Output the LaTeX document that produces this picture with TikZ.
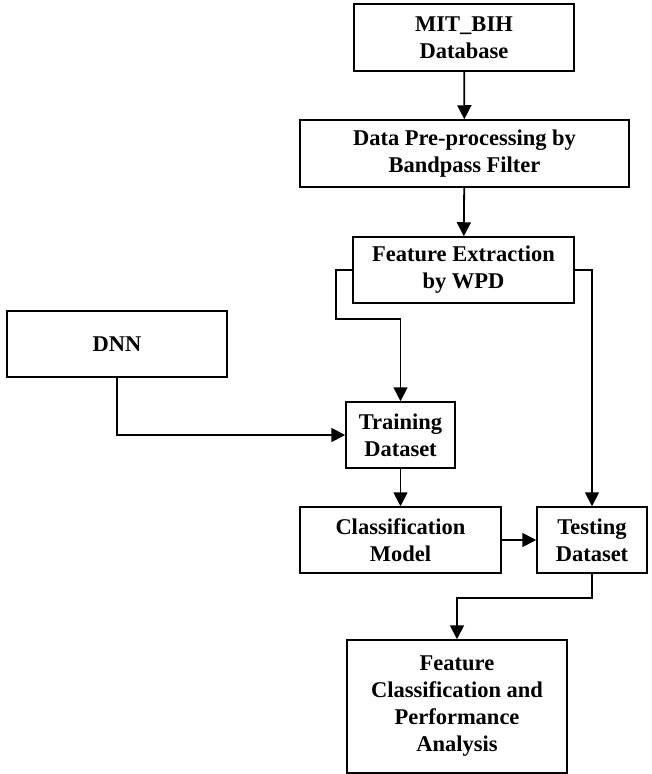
\documentclass[tikz,border=0pt]{standalone}
\usepackage{fontspec}
\setmainfont{Liberation Serif}
\usetikzlibrary{arrows.meta}
\begin{document}
\begin{tikzpicture}[x=1pt,y=-1pt,
  box/.style={draw=black, line width=1.5pt, fill=white, inner sep=0pt,
    align=center, font=\fontsize{22.5}{27}\selectfont\bfseries},
  link/.style={draw=black, line width=1.8pt,
    -{Triangle[length=14pt,width=14pt]}}]
  \useasboundingbox (0,0) rectangle (652,774);

  % process boxes
  \node[box, minimum width=220, minimum height=67] (mit)   at (464,37.5)  {MIT\_BIH\\Database};
  \node[box, minimum width=329, minimum height=67] (pre)   at (464.5,153.5) {Data Pre-processing by\\Bandpass Filter};
  \node[box, minimum width=221, minimum height=66] (fe)    at (463.5,270) {Feature Extraction\\by WPD};
  \node[box, minimum width=220, minimum height=66] (dnn)   at (117,344)   {DNN};
  \node[box, minimum width=109, minimum height=66] (train) at (400.5,435) {Training\\Dataset};
  \node[box, minimum width=201, minimum height=66] (cls)   at (400.5,540) {Classification\\Model};
  \node[box, minimum width=110, minimum height=66] (test)  at (592,540)   {Testing\\Dataset};
  \node[box, minimum width=220, minimum height=133] (fc)   at (457,706.5) {Feature\\Classification and\\Performance\\Analysis};

  % bend points of the routed connectors
  \coordinate (feL) at (336,319);
  \coordinate (tsD) at (592,598);

  % connectors
  \draw[link] (mit) -- (pre);
  \draw[link] (pre) -- (fe);
  \draw[link] (fe.west) -| (feL) -| (train.north);
  \draw[link] (fe.east) -| (test.north);
  \draw[link] (dnn.south) |- (train.west);
  \draw[link] (train) -- (cls);
  \draw[link] (cls) -- (test);
  \draw[link] (test.south) -- (tsD) -| (fc.north);
\end{tikzpicture}
\end{document}
